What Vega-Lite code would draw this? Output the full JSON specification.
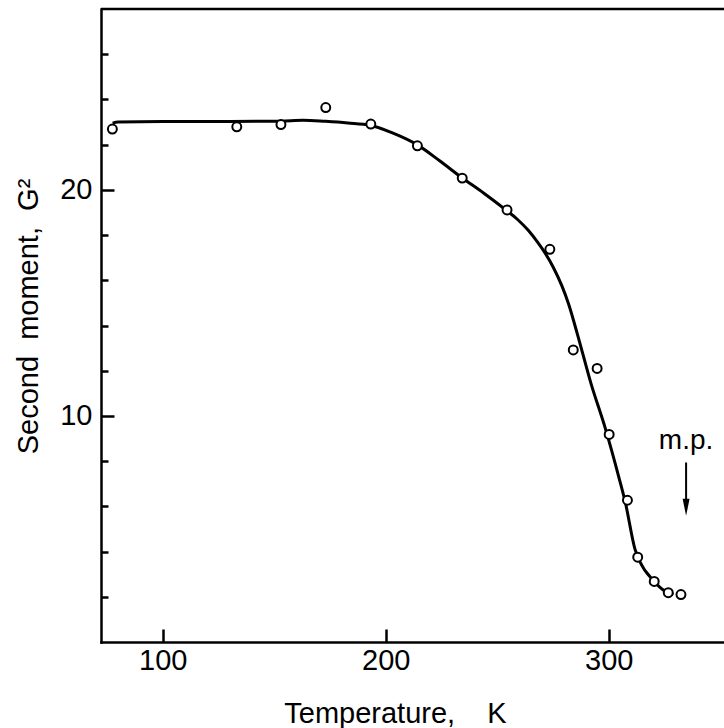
{
  "$schema": "https://vega.github.io/schema/vega-lite/v6.json",
  "autosize": "none",
  "width": 623,
  "height": 633,
  "padding": {"left": 101, "top": 9, "right": 0, "bottom": 86},
  "background": "white",
  "config": {
    "view": {"stroke": null},
    "font": "Liberation Sans",
    "axis": {"labelFont": "Liberation Sans", "titleFont": "Liberation Sans", "labelColor": "black", "titleColor": "black", "domainColor": "black", "tickColor": "black", "grid": false}
  },
  "datasets": {
    "points": [
      {"T": 77.4, "M": 22.69},
      {"T": 133.2, "M": 22.79},
      {"T": 153.0, "M": 22.89},
      {"T": 173.1, "M": 23.64},
      {"T": 193.3, "M": 22.91},
      {"T": 214.2, "M": 21.95},
      {"T": 234.3, "M": 20.52},
      {"T": 254.4, "M": 19.11},
      {"T": 273.6, "M": 17.37},
      {"T": 284.1, "M": 12.92},
      {"T": 294.8, "M": 12.10},
      {"T": 300.2, "M": 9.18},
      {"T": 308.4, "M": 6.27},
      {"T": 313.0, "M": 3.75},
      {"T": 320.4, "M": 2.68},
      {"T": 326.7, "M": 2.18},
      {"T": 332.4, "M": 2.10}
    ],
    "curve": [
      {"T": 77.5, "M": 22.95},
      {"T": 80, "M": 23.0},
      {"T": 100, "M": 23.02},
      {"T": 130, "M": 23.02},
      {"T": 153, "M": 23.04},
      {"T": 163, "M": 23.08},
      {"T": 173, "M": 23.03},
      {"T": 183, "M": 22.96},
      {"T": 193, "M": 22.86},
      {"T": 203, "M": 22.52},
      {"T": 214, "M": 22.0},
      {"T": 224, "M": 21.3},
      {"T": 234, "M": 20.55},
      {"T": 244, "M": 19.85},
      {"T": 254, "M": 19.1},
      {"T": 259, "M": 18.7},
      {"T": 264, "M": 18.2},
      {"T": 268, "M": 17.7},
      {"T": 271.5, "M": 17.2},
      {"T": 275, "M": 16.6},
      {"T": 279, "M": 15.75},
      {"T": 282, "M": 14.95},
      {"T": 286, "M": 13.6},
      {"T": 292, "M": 11.45},
      {"T": 298.5, "M": 9.44},
      {"T": 304.7, "M": 7.23},
      {"T": 307.5, "M": 6.15},
      {"T": 311.8, "M": 4.1},
      {"T": 314, "M": 3.55},
      {"T": 320, "M": 2.72},
      {"T": 325.2, "M": 2.25},
      {"T": 329, "M": 2.1}
    ],
    "label": [{"T": 334.7, "M": 8.54, "text": "m.p."}],
    "arrow": [{"T": 334.7, "M": 7.94, "M2": 5.9}],
    "head": [{"T": 334.7, "M": 5.96}]
  },
  "layer": [
    {
      "data": {"name": "curve"},
      "mark": {"type": "line", "color": "black", "strokeWidth": 3, "interpolate": "monotone"},
      "encoding": {
        "x": {
          "field": "T", "type": "quantitative",
          "scale": {"domain": [72.3, 351.7], "nice": false, "zero": false},
          "axis": {
            "orient": "bottom",
            "values": [100, 200, 300],
            "tickSize": -13, "tickWidth": 2.5,
            "domainWidth": 2.5, "domainCap": "square",
            "labelFontSize": 29, "labelPadding": 17, "labelFlush": false,
            "title": "Temperature,\u00a0\u00a0\u00a0\u00a0K",
            "titleFontSize": 29, "titleFontWeight": "normal",
            "titleX": 294, "titleY": 80, "titleAlign": "center", "titleBaseline": "alphabetic"
          }
        },
        "y": {
          "field": "M", "type": "quantitative",
          "scale": {"domain": [0, 28], "nice": false, "zero": false},
          "axis": {
            "orient": "left",
            "values": [2, 4, 6, 8, 10, 12, 14, 16, 18, 20, 22, 24, 26],
            "labelExpr": "datum.value % 10 === 0 ? datum.label : ''",
            "tickSize": {"condition": {"test": "datum.value === 10 || datum.value === 20", "value": -13}, "value": -7},
            "tickWidth": 2.5,
            "domainWidth": 2.5, "domainCap": "square",
            "labelFontSize": 29, "labelPadding": 22, "labelOverlap": false, "labelFlush": false,
            "title": "Second\u00a0\u00a0moment,\u00a0\u00a0G²",
            "titleFontSize": 29, "titleFontWeight": "normal",
            "titleAngle": 270, "titleX": -64, "titleY": 307, "titleAlign": "center", "titleBaseline": "alphabetic"
          }
        }
      }
    },
    {
      "data": {"name": "points"},
      "mark": {"type": "point", "shape": "circle", "filled": false, "fill": "white", "stroke": "black", "strokeWidth": 2, "size": 80, "opacity": 1},
      "encoding": {
        "x": {"field": "T", "type": "quantitative"},
        "y": {"field": "M", "type": "quantitative"}
      }
    },
    {
      "data": {"name": "arrow"},
      "mark": {"type": "rule", "color": "black", "strokeWidth": 2},
      "encoding": {
        "x": {"field": "T", "type": "quantitative"},
        "y": {"field": "M", "type": "quantitative"},
        "y2": {"field": "M2"}
      }
    },
    {
      "data": {"name": "head"},
      "mark": {"type": "point", "shape": "M -0.41 -1 L 0.41 -1 L 0 1 Z", "filled": true, "color": "black", "size": 289, "opacity": 1, "strokeWidth": 0},
      "encoding": {
        "x": {"field": "T", "type": "quantitative"},
        "y": {"field": "M", "type": "quantitative"}
      }
    },
    {
      "data": {"name": "label"},
      "mark": {"type": "text", "align": "center", "baseline": "alphabetic", "fontSize": 28, "color": "black", "font": "Liberation Sans"},
      "encoding": {
        "x": {"field": "T", "type": "quantitative"},
        "y": {"field": "M", "type": "quantitative"},
        "text": {"field": "text"}
      }
    },
    {
      "data": {"values": [{}]},
      "mark": {"type": "rule", "color": "black", "strokeWidth": 2.5},
      "encoding": {
        "y": {"datum": 28}
      }
    }
  ]
}
